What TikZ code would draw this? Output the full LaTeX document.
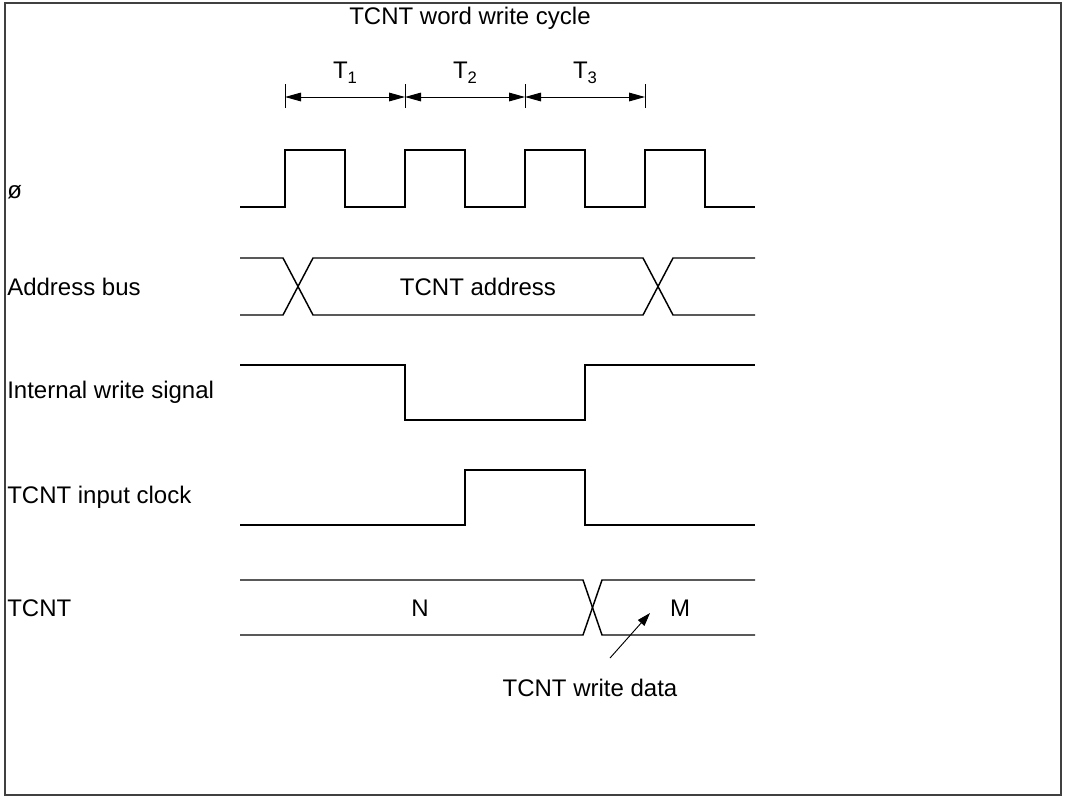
\documentclass[tikz,border=0pt]{standalone}
\usepackage{fontspec}
\setmainfont{Liberation Sans}
\usetikzlibrary{arrows.meta}
\newcommand{\tsub}[1]{\raisebox{-4pt}{\fontsize{12.5}{13}\selectfont #1}}

\begin{document}
\begin{tikzpicture}[x=0.75pt, y=-0.75pt, font=\fontsize{18}{21}\selectfont,
  wave/.style={line width=1.1pt},
  dim/.style={line width=0.7pt, {Triangle[length=12pt,width=6.5pt]}-{Triangle[length=12pt,width=6.5pt]}},
  ptr/.style={line width=0.7pt, -{Triangle[length=10pt,width=6.5pt]}},
  sig/.style={anchor=west, inner sep=0pt}]
\useasboundingbox (0,0) rectangle (1066,797);
\draw[line width=1.5pt, black!75] (5,3) rectangle (1061,795);

\node (title) at (470,18) {TCNT word write cycle};

% cycle markers
\foreach \x/\n in {285/a, 405/b, 525/c, 645/d} {
  \coordinate (t\n) at (\x,97);
  \draw[line width=0.7pt] (\x,84) -- (\x,108);
}
\draw[dim] (ta) -- (tb);
\draw[dim] (tb) -- (tc);
\draw[dim] (tc) -- (td);
\node (T1) at (345,73) {T\tsub{1}};
\node (T2) at (465,73) {T\tsub{2}};
\node (T3) at (585,73) {T\tsub{3}};

% signal names
\node[sig] (phi)  at (7,192) {ø};
\node[sig] (abus) at (7,287) {Address bus};
\node[sig] (iws)  at (7,392) {Internal write signal};
\node[sig] (clk)  at (7,497) {TCNT input clock};
\node[sig] (tcnt) at (7,608) {TCNT};

% clock
\draw[wave] (240,207) \foreach \x in {285,405,525,645} {
  -- (\x,207) -- (\x,150) -- (\x+60,150) -- (\x+60,207)} -- (755,207);

% address bus
\draw[wave] (240,258) -- (283,258) -- (313,315) -- (643,315) -- (673,258) -- (755,258);
\draw[wave] (240,315) -- (283,315) -- (313,258) -- (643,258) -- (673,315) -- (755,315);
\node (addr) at (478,287) {TCNT address};

% internal write signal
\draw[wave] (240,365) -- (405,365) -- (405,420) -- (585,420) -- (585,365) -- (755,365);

% TCNT input clock
\draw[wave] (240,525) -- (465,525) -- (465,470) -- (585,470) -- (585,525) -- (755,525);

% TCNT
\draw[wave] (240,580) -- (583,580) -- (602,635) -- (755,635);
\draw[wave] (240,635) -- (583,635) -- (602,580) -- (755,580);
\node (valN) at (420,608) {N};
\node (valM) at (680,608) {M};

\node (wdata) at (590,688) {TCNT write data};
\coordinate (wtail) at (610,658);
\coordinate (mtip) at (650,613);
\draw[ptr] (wtail) -- (mtip);
\end{tikzpicture}
\end{document}
